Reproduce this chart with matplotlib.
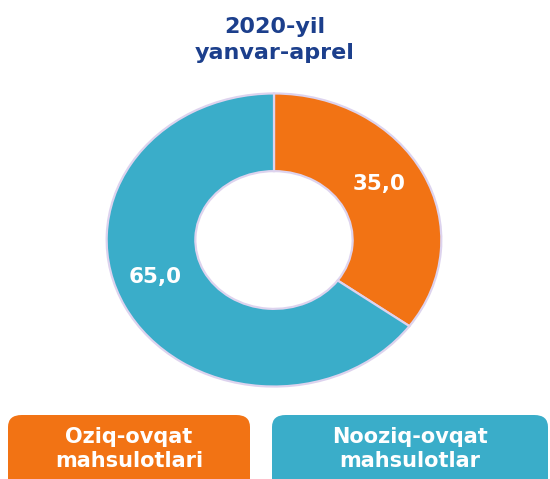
import matplotlib.pyplot as plt
from matplotlib.patches import FancyBboxPatch

title = "2020-yil\nyanvar-aprel"
labels = ["Oziq-ovqat\nmahsulotlari", "Nooziq-ovqat\nmahsulotlar"]
values = [35.0, 65.0]
colors = ["#f27314", "#3aadc9"]

# where the value labels sit inside the ring (axes data units)
label_xy = [(0.63, 0.38), (-0.71, -0.25)]

plt.rcParams["font.family"] = ["DejaVu Sans"]

fig = plt.figure(figsize=(5.5, 4.79), dpi=100)

# donut (slightly wider than tall, like the original)
ax = fig.add_axes([105 / 550, 91 / 479, 338 / 550, 296 / 479])
wedges, _ = ax.pie(values, colors=colors, startangle=90, counterclock=False,
                   radius=1, wedgeprops=dict(width=0.53, edgecolor="#ddd3ee", linewidth=1.6))
ax.set_xlim(-1.01, 1.01)
ax.set_ylim(-1.01, 1.01)
ax.set_aspect("auto")
ax.axis("off")

for (x, y), v in zip(label_xy, values):
    ax.text(x, y, f"{v:.1f}".replace(".", ","),
            ha="center", va="center", color="white", fontsize=15.5, fontweight="bold")

fig.text(0.5, 1 - 40 / 479, title, ha="center", va="center", color="#1c3f8c",
         fontsize=16, fontweight="bold", linespacing=1.32)

# legend boxes
boxes = [(8, 250), (272, 548)]
for (x0, x1), lab, col in zip(boxes, labels, colors):
    box = FancyBboxPatch((x0 / 550, -0.05), (x1 - x0) / 550, (479 - 415) / 479 + 0.05,
                         boxstyle="round,pad=0,rounding_size=0.025", transform=fig.transFigure,
                         facecolor=col, edgecolor="none")
    fig.patches.append(box)
    fig.text((x0 + x1) / 2 / 550, 1 - 449 / 479, lab, ha="center", va="center",
             color="white", fontsize=15, fontweight="bold", linespacing=1.3)

fig.savefig("out.png", dpi=100)
